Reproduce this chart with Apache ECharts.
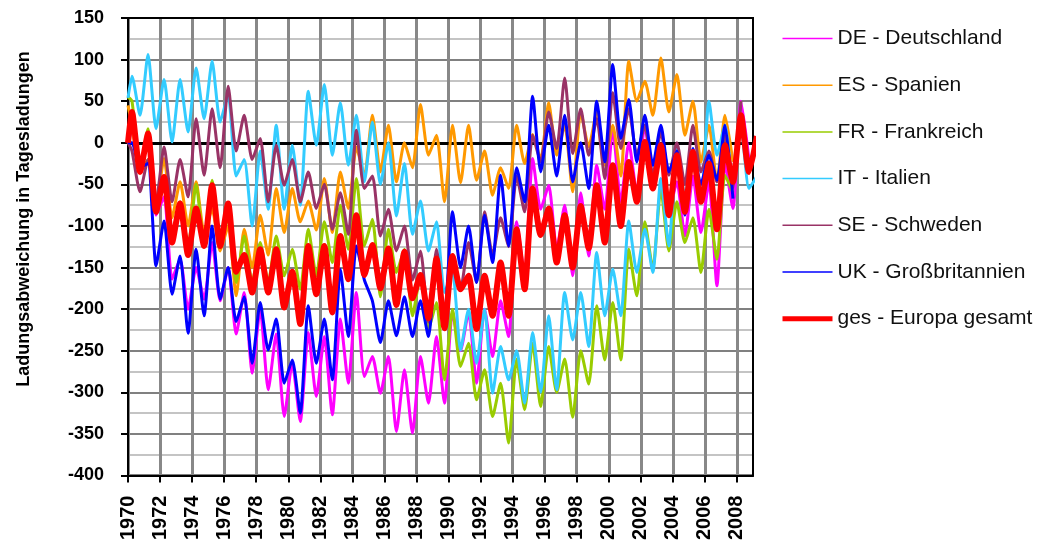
<!DOCTYPE html>
<html>
<head>
<meta charset="utf-8">
<script src="https://cdn.jsdelivr.net/npm/echarts@6/dist/echarts.min.js"></script>
<style>
html,body{margin:0;padding:0;background:#fff;}
#chart{width:1037px;height:543px;}
</style>
</head>
<body>
<div id="chart"></div>
<script>
// Half-year sampling: first value at 1970.0, then alternating peak (Y.25) / trough (Y.75)
const seriesNames = ['DE - Deutschland','ES - Spanien','FR - Frankreich','IT - Italien','SE - Schweden','UK - Großbritannien','ges - Europa gesamt'];
const seriesColors = ['#FF00FF','#FF9900','#99CC00','#33CCFF','#993366','#0000FF','#FF0000'];
const yearTicks = [1970,1972,1974,1976,1978,1980,1982,1984,1986,1988,1990,1992,1994,1996,1998,2000,2002,2004,2006,2008];
const yTicks = [-400,-350,-300,-250,-200,-150,-100,-50,0,50,100,150];

const DE = [0,
 15,-30, 5,-87, -65,-164, -140,-200, -150,-188, -120,-190, -150,-230, -180,-277, -200,-297, -230,-329,
 -265,-335, -228,-305, -233,-327, -212,-289, -180,-281, -257,-301, -257,-347, -273,-349, -257,-313, -233,-313,
 -204,-250, -204,-289, -200,-257, -190,-233, -95,-160, -19,-80, -51,-128, -75,-160, -60,-136, -27,-80,
 17,-71, 0,-60, 21,-40, -10,-85, -47,-112, -40,-108, -47,-172, -25,-79, 50,-20];
const ES = [45,
 20,-35, -20,-75, -19,-90, -47,-100, -47,-108, -80,-130, -100,-184, -104,-150, -87,-135, -55,-108,
 -55,-95, -70,-105, -43,-108, -35,-79, -5,-40, 33,-35, 21,-47, 0,-30, 46,-15, 9,-71,
 21,-48, 21,-45, -10,-63, -30,-55, 21,-25, 10,-20, 48,-15, 21,-59, 37,-5, 37,-27,
 21,-40, 98,50, 74,33, 102,37, 82,9, 50,-23, 21,-47, 33,-23];
const FR = [55,
 50,-30, 17,-83, -50,-110, -71,-125, -50,-124, -45,-124, -90,-168, -112,-168, -120,-168, -112,-160,
 -128,-176, -104,-160, -95,-144, -75,-128, -43,-124, -92,-185, -104,-156, -128,-208, -160,-224, -192,-285,
 -200,-269, -241,-309, -273,-329, -289,-361, -260,-321, -241,-317, -245,-300, -260,-330, -250,-290, -196,-261,
 -192,-261, -128,-184, -95,-152, -55,-130, -71,-120, -90,-156, -80,-140, -39,-60];
const IT = [54,
 80,33, 106,17, 76,1, 76,13, 90,29, 98,25, 58,-40, -20,-100, -10,-80, 21,-80,
 -3,-75, 62,-3, 70,-15, 48,-27, 33,-47, 25,-50, 0,-88, -25,-110, -70,-130, -95,-180,
 -156,-249, -200,-265, -200,-301, -245,-285, -250,-313, -228,-300, -208,-297, -180,-237, -180,-245, -132,-208,
 -152,-208, -94,-156, -104,-156, -43,-124, -7,-63, -15,-71, 50,-15, 21,-50, 20,-55,
 -40];
const SE = [0,
 -10,-59, -20,-70, -5,-71, -20,-65, 29,-39, 41,-30, 68,-10, 33,-20, 5,-71, -3,-51,
 -20,-71, -35,-79, -50,-104, -60,-110, 15,-55, -40,-112, -80,-130, -100,-165, -130,-216, -128,-205,
 -150,-175, -120,-168, -83,-135, -90,-125, -40,-83, 9,-23, 37,-7, 78,-13, 41,-15, 29,-43,
 60,-7, 41,-15, 21,-39, 13,-39, 0,-50, 21,-35, -10,-47, 9,-55, 50];
const UK = [0,
 0,-30, -25,-148, -94,-182, -136,-229, -128,-208, -100,-188, -150,-215, -185,-265, -192,-249, -212,-289,
 -261,-325, -196,-265, -212,-285, -152,-233, -124,-165, -190,-240, -190,-232, -185,-233, -190,-233, -140,-208,
 -83,-150, -100,-168, -87,-144, -39,-124, -30,-71, 56,-35, 21,-40, 33,-47, 0,-55, 50,-23,
 94,5, 52,-23, 33,-27, 21,-35, -10,-87, -7,-50, -15,-45, 21,-67];
const GES = [0,
 37,-35, 11,-83, -41,-120, -73,-135, -79,-124, -51,-124, -73,-155, -135,-180, -128,-180, -128,-198,
 -155,-218, -124,-182, -124,-204, -112,-164, -87,-159, -123,-175, -127,-195, -131,-187, -159,-211, -139,-223,
 -136,-176, -160,-224, -160,-208, -144,-208, -104,-176, -55,-111, -79,-144, -87,-150, -76,-127, -51,-120,
 -27,-100, -23,-71, 1,-55, -3,-87, -15,-83, -11,-71, -25,-104, -3,-47, 33,-35,
 8];

const allValues = [DE, ES, FR, IT, SE, UK, GES];
function toPoints(vals) {
  return vals.map(function (v, i) { return [i === 0 ? 1970 : 1969.75 + 0.5 * i, v]; });
}

const FONT = '"Liberation Sans", Arial, sans-serif';
const chart = echarts.init(document.getElementById('chart'), null, {renderer: 'canvas'});

const series = allValues.map(function (vals, k) {
  const isTotal = k === allValues.length - 1;
  const s = {
    name: seriesNames[k],
    type: 'line',
    data: toPoints(vals),
    symbol: 'none',
    smooth: 0.2,
    clip: true,
    lineStyle: {color: seriesColors[k], width: isTotal ? 6 : 3},
    itemStyle: {color: seriesColors[k]},
    z: 2
  };
  if (k === 0) {
    s.markLine = {
      silent: true, symbol: 'none', z: 1, animation: false,
      label: {show: false},
      lineStyle: {color: '#000', width: 3, type: 'solid'},
      data: [{yAxis: 0}]
    };
  }
  return s;
});

const option = {
  animation: false,
  backgroundColor: '#fff',
  grid: {left: 128, top: 18, width: 625, height: 459, show: true, backgroundColor: '#fff', borderColor: '#000', borderWidth: 2},
  graphic: [{
    type: 'text', x: 24, y: 219, rotation: Math.PI / 2,
    style: {text: 'Ladungsabweichung in Tagesladungen', font: 'bold 18px ' + FONT, fill: '#000', align: 'center', verticalAlign: 'middle'}
  }],
  legend: {
    orient: 'vertical', left: 775, top: 23,
    itemWidth: 50, itemHeight: 14, itemGap: 25.7,
    itemStyle: {opacity: 0, borderWidth: 0},
    textStyle: {fontSize: 21, fontFamily: FONT, color: '#111'},
    data: seriesNames.map(function (n, k) {
      return {name: n, lineStyle: {width: k === seriesNames.length - 1 ? 5 : 1.5}};
    })
  },
  xAxis: [{
    type: 'value', min: 1970, max: 2009, interval: 1, position: 'bottom',
    axisLine: {show: true, onZero: false, lineStyle: {color: '#000', width: 2}},
    axisTick: {show: true, length: 7, lineStyle: {color: '#000', width: 2}, customValues: yearTicks},
    axisLabel: {customValues: yearTicks, rotate: 90, margin: 20, fontSize: 20, fontWeight: 'bold', fontFamily: FONT, color: '#000',
      formatter: function (v) { return String(v); }},
    splitLine: {show: true, lineStyle: {color: '#888', width: 3}}
  }, {
    type: 'value', min: 1970, max: 2009, interval: 1, position: 'top',
    axisLine: {show: true, onZero: false, lineStyle: {color: '#000', width: 2}},
    axisTick: {show: false}, axisLabel: {show: false}, splitLine: {show: false}
  }],
  yAxis: [{
    type: 'value', min: -400, max: 150, interval: 50, position: 'left',
    axisLine: {show: true, onZero: false, lineStyle: {color: '#000', width: 2}},
    axisTick: {show: true, length: 7, lineStyle: {color: '#000', width: 2}, customValues: yTicks},
    axisLabel: {customValues: yTicks, margin: 24, fontSize: 18, fontWeight: 'bold', fontFamily: FONT, color: '#000'},
    splitLine: {show: true, lineStyle: {color: '#808080', width: 2}},
    minorTick: {show: false, splitNumber: 2},
    minorSplitLine: {show: true, lineStyle: {color: '#c4c4c4', width: 2}}
  }, {
    type: 'value', min: -400, max: 150, interval: 50, position: 'right',
    axisLine: {show: true, onZero: false, lineStyle: {color: '#000', width: 2}},
    axisTick: {show: false}, axisLabel: {show: false}, splitLine: {show: false}
  }],
  series: series
};
chart.setOption(option);
</script>
</body>
</html>
